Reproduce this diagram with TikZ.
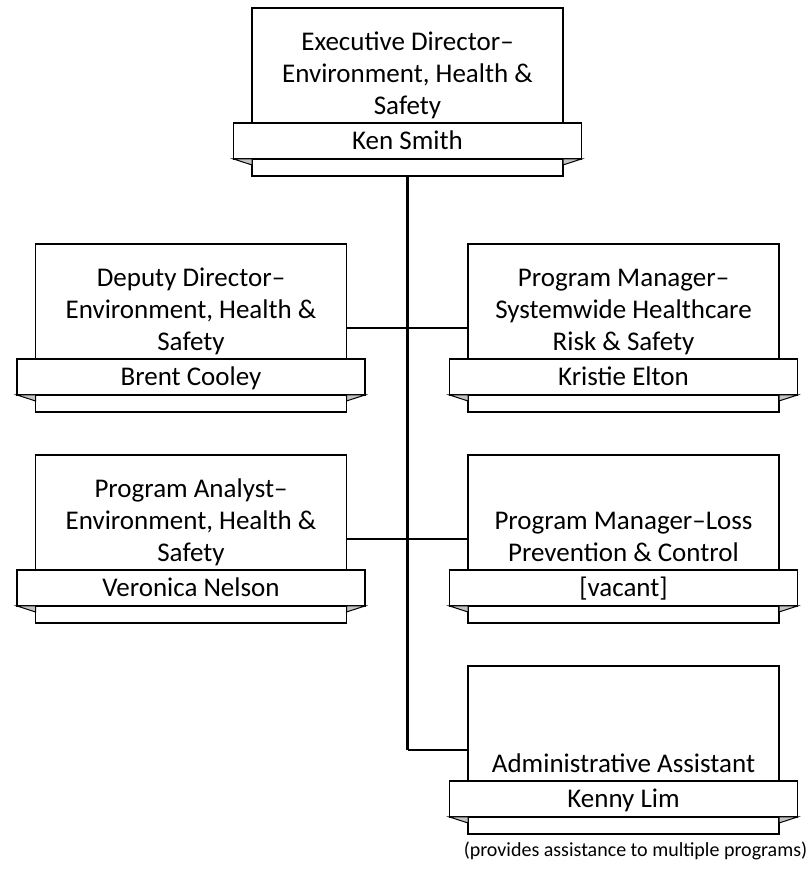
\documentclass[tikz,border=0pt]{standalone}
\usepackage{fontspec}
\setmainfont{Carlito}
\usetikzlibrary{positioning}
\definecolor{foldgray}{HTML}{C4C4C4}

\tikzset{
  role/.style={draw, fill=white, line width=1.5pt, minimum width=311pt,
               minimum height=168pt, outer sep=0pt},
  ribbon/.style={draw, fill=white, line width=1.5pt, minimum width=348pt,
                 minimum height=36pt, inner sep=0pt, outer sep=0pt,
                 text height=17pt, text depth=0pt,
                 font=\fontsize{27}{32}\selectfont},
  title/.style={align=center, inner sep=0pt, text depth=8pt,
                font=\fontsize{27}{32}\selectfont},
  fold/.style={draw, fill=foldgray, line width=1pt},
  link/.style={line width=2pt},
  trunk/.style={line width=3pt},
  note/.style={font=\fontsize{20}{24}\selectfont, inner sep=0pt}
}

\begin{document}
\begin{tikzpicture}[x=1pt, y=1pt]
    \useasboundingbox (0,0) rectangle (809,870);

    % boxes
    \node[role] (exec) at (407.5,778) {};
    \node[role] (deputy) at (191,542) {};
    \node[role] (pmhealth) at (623.5,542) {};
    \node[role] (analyst) at (191,331) {};
    \node[role] (pmloss) at (623.5,331) {};
    \node[role] (admin) at (623.5,120) {};

    % name ribbons
    \node[ribbon, above=17pt of exec.south] (exec-name) {Ken Smith};
    \node[ribbon, above=17pt of deputy.south] (deputy-name) {Brent Cooley};
    \node[ribbon, above=17pt of pmhealth.south] (pmhealth-name) {Kristie Elton};
    \node[ribbon, above=17pt of analyst.south] (analyst-name) {Veronica Nelson};
    \node[ribbon, above=17pt of pmloss.south] (pmloss-name) {[vacant]};
    \node[ribbon, above=17pt of admin.south] (admin-name) {Kenny Lim};

    \foreach \b in {exec,deputy,pmhealth,analyst,pmloss,admin}{
      \draw[fold] (\b-name.south west) -- (\b.west |- \b-name.south)
        -- ([yshift=-6pt]\b.west |- \b-name.south) -- cycle;
      \draw[fold] (\b-name.south east) -- (\b.east |- \b-name.south)
        -- ([yshift=-6pt]\b.east |- \b-name.south) -- cycle;
    }

    % titles
    \node[title, above=0pt of exec-name] (exec-title)
      {Executive Director–\\Environment, Health \&\\Safety};
    \node[title, above=0pt of deputy-name] (deputy-title)
      {Deputy Director–\\Environment, Health \&\\Safety};
    \node[title, above=0pt of pmhealth-name] (pmhealth-title)
      {Program Manager–\\Systemwide Healthcare\\Risk \& Safety};
    \node[title, above=0pt of analyst-name] (analyst-title)
      {Program Analyst–\\Environment, Health \&\\Safety};
    \node[title, above=0pt of pmloss-name] (pmloss-title)
      {Program Manager–Loss\\Prevention \& Control};
    \node[title, above=0pt of admin-name] (admin-title)
      {Administrative Assistant};

    \node[note, below=8pt of admin.south, xshift=12pt] (admin-note)
      {(provides assistance to multiple programs)};

    % connectors
    \coordinate (bend) at (exec.south |- admin.west);
    \draw[trunk] (exec.south) -- (bend);
    \draw[link] (deputy.east) -- (pmhealth.west);
    \draw[link] (analyst.east) -- (pmloss.west);
    \draw[link] (bend) -- (admin.west);
\end{tikzpicture}
\end{document}
